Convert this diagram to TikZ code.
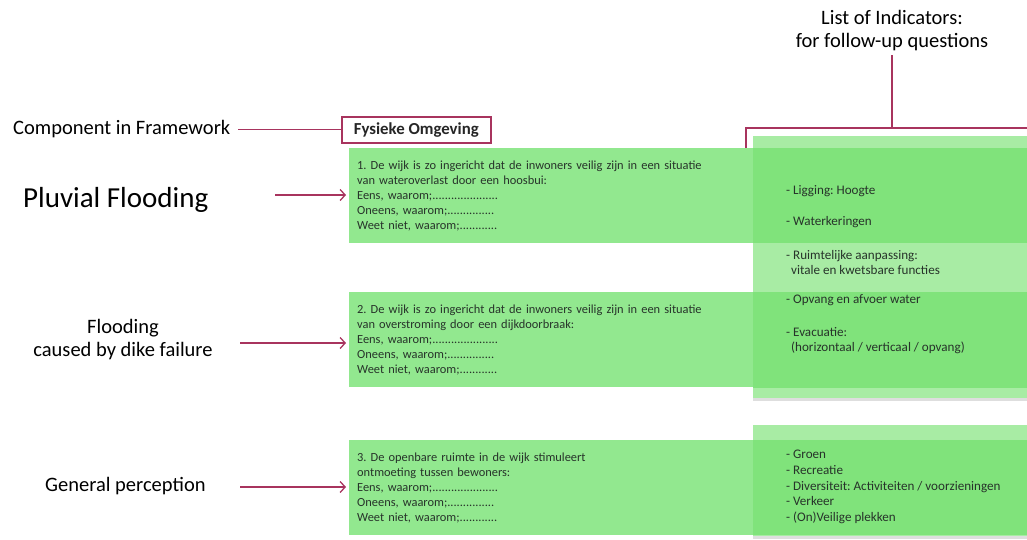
\documentclass[tikz,border=0pt]{standalone}
\usepackage{fontspec}
\setmainfont{Carlito}
\usetikzlibrary{arrows.meta}
\frenchspacing
\definecolor{maroon}{HTML}{A8345E}
\definecolor{qgreen}{HTML}{92E88F}
\definecolor{igreen}{HTML}{A8ECA4}
\definecolor{ogreen}{HTML}{80E37B}
\definecolor{qtext}{HTML}{27332A}
\tikzset{
  lab/.style={font=\fontsize{20.5}{23}\selectfont, align=center, inner sep=0pt},
  qbox/.style={fill=qgreen, draw=none, anchor=north west, minimum width=404pt, minimum height=95pt,
     text width=388pt, align=left, inner sep=0pt, text=qtext, font=\fontsize{12.4}{15}\selectfont},
  ibox/.style={fill=igreen, draw=none},
  itxt/.style={anchor=west, inner sep=0pt, text=qtext, font=\fontsize{13.1}{15}\selectfont, align=left},
  arr/.style={draw=maroon, line width=1.3pt, -{Straight Barb[length=5pt,width=11pt]}},
  link/.style={draw=maroon, line width=1.3pt},
}
\begin{document}
\begin{tikzpicture}[x=1pt,y=-1pt]
\useasboundingbox (0,0) rectangle (1027,539);
% indicator boxes
\fill[black!13] (753,397) rectangle (1027,401);
\fill[black!13] (753,535) rectangle (1027,539);
\node[ibox, minimum width=274pt, minimum height=262pt, anchor=north west, inner sep=0pt] (ind1) at (753,136) {};
\node[ibox, minimum width=274pt, minimum height=111pt, anchor=north west, inner sep=0pt] (ind2) at (753,425) {};
% question boxes
\node[qbox] (q1) at (349,148) {1. De wijk is zo ingericht dat de inwoners veilig zijn in een situatie\\van wateroverlast door een hoosbui:\\Eens, waarom;.....................\\Oneens, waarom;...............\\Weet niet, waarom;............};
\node[qbox] (q2) at (349,292) {2. De wijk is zo ingericht dat de inwoners veilig zijn in een situatie\\van overstroming door een dijkdoorbraak:\\Eens, waarom;.....................\\Oneens, waarom;...............\\Weet niet, waarom;............};
\node[qbox] (q3) at (349,440) {3. De openbare ruimte in de wijk stimuleert\\ontmoeting tussen bewoners:\\Eens, waarom;.....................\\Oneens, waarom;...............\\Weet niet, waarom;............};
% overlaps
\fill[ogreen] (753,148) rectangle (1027,243);
\fill[ogreen] (753,292) rectangle (1027,388);
\fill[ogreen] (753,440) rectangle (1027,535);
% indicator texts
\node[itxt] (i1) at (786,191) {- Ligging: Hoogte};
\node[itxt] (i2) at (786,222) {- Waterkeringen};
\node[itxt] (i3) at (786,262) {- Ruimtelijke aanpassing:\\\hspace*{5pt}vitale en kwetsbare functies};
\node[itxt] (i4) at (786,300) {- Opvang en afvoer water};
\node[itxt] (i5) at (786,341) {- Evacuatie:\\\hspace*{5pt}(horizontaal / verticaal / opvang)};
\node[itxt, font=\fontsize{13.1}{15.7}\selectfont] (i6) at (786,487) {- Groen\\- Recreatie\\- Diversiteit: Activiteiten / voorzieningen\\- Verkeer\\- (On)Veilige plekken};
% component
\node[draw=maroon, line width=1.6pt, anchor=north west, minimum width=149pt, minimum height=26pt, inner sep=0pt,
      font=\bfseries\fontsize{16.8}{18}\selectfont, text=black!85] (fo) at (341,116) {Fysieke Omgeving};
\node[lab, anchor=west] (comp) at (13,129) {Component in Framework};
\coordinate (c1) at ([xshift=8pt]comp.east);
\draw[link] (c1 |- fo.west) -- (fo.west);
% left labels
\node[lab, anchor=west, font=\fontsize{29}{32}\selectfont] (l1) at (23,200) {Pluvial Flooding};
\node[lab] (l2) at (123,340) {Flooding\\caused by dike failure};
\node[lab, anchor=west] (l3) at (45,486) {General perception};
\coordinate (s1) at (275,195);
\coordinate (s2) at (240,343);
\coordinate (s3) at (240,487);
\draw[arr, shorten >=3pt] (s1) -- (s1 -| q1.west);
\draw[arr, shorten >=3pt] (s2) -- (s2 -| q2.west);
\draw[arr, shorten >=3pt] (s3) -- (s3 -| q3.west);
% list of indicators
\node[lab] (loi) at (892,31) {List of Indicators:\\for follow-up questions};
\coordinate (bl) at (746,148);
\coordinate (bc) at (892,128);
\coordinate (br) at (1027,128);
\draw[link] (bl) |- (br);
\draw[link] (bc) -- (bc |- 0,55);
\end{tikzpicture}
\end{document}
